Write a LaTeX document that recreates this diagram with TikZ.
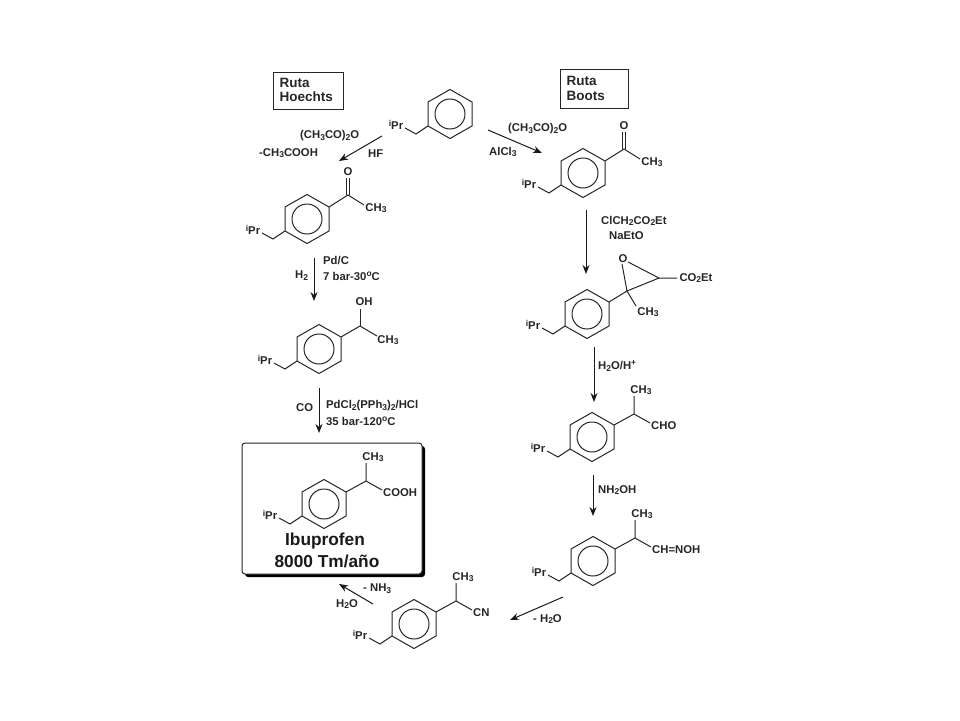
\documentclass[tikz,border=0pt]{standalone}
\usepackage{fontspec}
\setmainfont{Liberation Sans}
\usetikzlibrary{arrows.meta,positioning,calc}
\tikzset{
  lab/.style={inner sep=0pt, text=black!85, font=\fontsize{11.3}{13}\selectfont\bfseries},
  labw/.style={lab, anchor=west},
  ruta/.style={labw, font=\fontsize{13.5}{15}\selectfont\bfseries},
  big/.style={inner sep=0pt, text=black!90, font=\fontsize{17.3}{19}\selectfont\bfseries},
  bond/.style={line width=1pt, black!85},
  rxn/.style={-{Stealth[length=9pt,width=7pt]}, line width=1pt, black!90},
  tag/.style={draw, line width=1pt, black!85}
}
\newcommand{\sub}[1]{\raisebox{-.3ex}{\fontsize{8.5}{9}\selectfont #1}}
\newcommand{\sur}[1]{\raisebox{.55ex}{\fontsize{8.5}{9}\selectfont #1}}
% ring with the iPr arm
\newcommand{\ringmol}[3]{
\begin{scope}[shift={(#2,#3)}]
\coordinate (#1t) at (0,-24.5);
\coordinate (#1r) at (22,-12);
\coordinate (#1s) at (22,12);
\coordinate (#1b) at (0,24.5);
\coordinate (#1u) at (-22,12);
\coordinate (#1v) at (-22,-12);
\coordinate (#1m) at (-34,20);
\coordinate (#1e) at (-45,14);
\node[lab] (#1ipr) at (-54,11) {\sur{i}Pr};
\draw[bond] (#1t) -- (#1r) -- (#1s) -- (#1b) -- (#1u) -- (#1v) -- cycle;
\draw[bond] (0,0) circle (15);
\draw[bond] (#1u) -- (#1m) -- (#1e);
\end{scope}
}
% same ring with the CH(CH3)R side chain
\newcommand{\propmol}[4]{
\ringmol{#1}{#2}{#3}
\begin{scope}[shift={(#2,#3)}]
\coordinate (#1c) at (42,-23);
\coordinate (#1up) at (42,-41);
\coordinate (#1dn) at (58,-14);
\node[lab] (#1me) at (49,-47) {CH\sub{3}};
\node[labw] (#1rr) at (59,-11) {#4};
\draw[bond] (#1r) -- (#1c) -- (#1up);
\draw[bond] (#1c) -- (#1dn);
\end{scope}
}
% ring with the acetyl group
\newcommand{\ketmol}[3]{
\ringmol{#1}{#2}{#3}
\begin{scope}[shift={(#2,#3)}]
\coordinate (#1c) at (41,-24);
\coordinate (#1dn) at (57,-14);
\node[lab] (#1ox) at (41,-47) {O};
\node[lab] (#1me) at (69,-11) {CH\sub{3}};
\draw[bond] (#1r) -- (#1c) -- (#1dn);
\draw[bond] ($(#1c)+(-1.5,0)$) -- ++(0,-17);
\draw[bond] ($(#1c)+(1.5,0)$) -- ++(0,-17);
\end{scope}
}
\begin{document}
\begin{tikzpicture}[x=1pt, y=-1pt]
\useasboundingbox (0,0) rectangle (960,720);

% route boxes
\draw[tag] (273,72) rectangle (343,109);
\node[ruta] (hoa) at (279.5,83) {Ruta};
\node[ruta] (hob) at (279.5,97) {Hoechts};
\draw[tag] (560,69) rectangle (628,108);
\node[ruta] (boa) at (566.5,81) {Ruta};
\node[ruta] (bob) at (566.5,96) {Boots};

% product box
\fill[black, rounded corners=3pt] (245,446) rectangle (425,577);
\draw[tag, fill=white, rounded corners=3pt] (242,443) rectangle (422,574);

% molecules
\ringmol{st}{450}{114}
\ketmol{ha}{307}{219}
\ketmol{ba}{583}{173}

\ringmol{hb}{319}{349}
\coordinate (hbc) at (360,326);
\coordinate (hbo) at (360,309);
\coordinate (hbd) at (377,336);
\node[lab] (hboh) at (364,302) {OH};
\node[lab] (hbme) at (388,340) {CH\sub{3}};
\draw[bond] (hbr) -- (hbc) -- (hbd);
\draw[bond] (hbc) -- (hbo);

\propmol{ib}{324}{504}{COOH}
\propmol{cho}{592}{437}{CHO}
\propmol{ox}{593}{561}{CH=NOH}
\propmol{cn}{414}{624}{CN}

\ringmol{ep}{587}{314}
\coordinate (epc) at (627,291);
\coordinate (epd) at (659,278);
\coordinate (epf) at (677,278);
\coordinate (epg) at (636,306);
\coordinate (epa) at (622,264);
\coordinate (epb) at (628,262);
\node[lab] (epo) at (623,259) {O};
\node[lab] (epco) at (696,278) {CO\sub{2}Et};
\node[lab] (epme) at (648,312) {CH\sub{3}};
\draw[bond] (epr) -- (epc) -- (epg);
\draw[bond] (epc) -- (epd) -- (epf);
\draw[bond] (epc) -- (epa);
\draw[bond] (epd) -- (epb);

% arrows
\coordinate (a1) at (382,136);
\coordinate (a2) at (339,161);
\coordinate (b1) at (488,130);
\coordinate (b2) at (542,153);
\coordinate (c1) at (586,210);
\coordinate (c2) at (586,274);
\coordinate (d1) at (594,347);
\coordinate (d2) at (594,402);
\coordinate (e1) at (593,475);
\coordinate (e2) at (593,516);
\coordinate (f1) at (563,597);
\coordinate (f2) at (510,620);
\coordinate (g1) at (373,604);
\coordinate (g2) at (339,584);
\coordinate (h1) at (314,258);
\coordinate (h2) at (314,301);
\coordinate (i1) at (319,388);
\coordinate (i2) at (319,433);
\draw[rxn] (a1) -- (a2);
\draw[rxn] (b1) -- (b2);
\draw[rxn] (c1) -- (c2);
\draw[rxn] (d1) -- (d2);
\draw[rxn] (e1) -- (e2);
\draw[rxn] (f1) -- (f2);
\draw[rxn] (g1) -- (g2);
\draw[rxn] (h1) -- (h2);
\draw[rxn] (i1) -- (i2);

% reagents
\node[labw] (r1) at (300,136) {(CH\sub{3}CO)\sub{2}O};
\node[labw] (r2) at (259,153) {-CH\sub{3}COOH};
\node[labw] (r3) at (368,154) {HF};
\node[labw] (r4) at (508,129) {(CH\sub{3}CO)\sub{2}O};
\node[labw] (r5) at (489,152) {AlCl\sub{3}};
\node[labw] (r6) at (601,221) {ClCH\sub{2}CO\sub{2}Et};
\node[labw] (r7) at (609,236) {NaEtO};
\node[labw] (r8) at (323,261) {Pd/C};
\node[labw] (r9) at (323,276) {7 bar-30\sur{o}C};
\node[labw] (r10) at (295,276) {H\sub{2}};
\node[labw] (r11) at (296,408) {CO};
\node[labw] (r12) at (326,406) {PdCl\sub{2}(PPh\sub{3})\sub{2}/HCl};
\node[labw] (r13) at (326,421) {35 bar-120\sur{o}C};
\node[labw] (r14) at (598,366) {H\sub{2}O/H\sur{+}};
\node[labw] (r15) at (598,490) {NH\sub{2}OH};
\node[labw] (r16) at (533,619) {- H\sub{2}O};
\node[labw] (r17) at (363,589) {- NH\sub{3}};
\node[labw] (r18) at (336,604) {H\sub{2}O};

% product name
\node[big] (ibu) at (325,541) {Ibuprofen};
\node[big] (ton) at (327,561) {8000 Tm/año};

\end{tikzpicture}
\end{document}
